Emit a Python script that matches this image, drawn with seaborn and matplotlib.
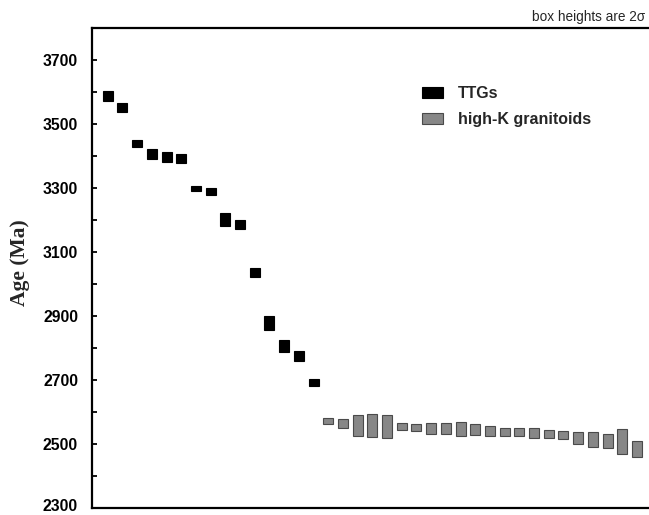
import matplotlib
matplotlib.use("Agg")
import matplotlib.pyplot as plt
import matplotlib.transforms as mtransforms
from matplotlib.patches import Patch
import seaborn as sns
import numpy as np
import pandas as pd

# ---- data (ages in Ma, sigma = half box height; box heights are 2 sigma) ----
ttg_age = [3587, 3550, 3437, 3406, 3396, 3391, 3298, 3288, 3201, 3185,
           3036, 2878, 2805, 2774, 2691]
ttg_sigma = [15, 14, 11, 15, 15, 15, 9, 12, 20, 13, 15, 23, 19, 16, 11]

gran_age = [2571, 2564, 2558, 2558, 2555, 2554, 2552, 2549, 2548, 2547, 2545,
            2540, 2538, 2538, 2535, 2531, 2529, 2518, 2514, 2509, 2508, 2484]
gran_sigma = [9, 14, 32, 37, 36, 10, 10, 18, 17, 21, 17,
              15, 12, 12, 15, 12, 13, 18, 23, 21, 40, 25]

legend_labels = ["TTGs", "high-K granitoids"]
y_ticks = [2300, 2500, 2700, 2900, 3100, 3300, 3500, 3700]

ttg = pd.DataFrame({"pos": np.arange(len(ttg_age)),
                    "age": ttg_age, "sigma": ttg_sigma})
gran = pd.DataFrame({"pos": np.arange(len(gran_age)) + len(ttg_age),
                     "age": gran_age, "sigma": gran_sigma})
for d in (ttg, gran):
    d["height"] = 2 * d["sigma"]
    d["bottom"] = d["age"] - d["sigma"]

sns.set_style("white", {"ytick.direction": "in", "ytick.left": True})
sans = ["Liberation Sans", "DejaVu Sans"]
plt.rcParams["font.family"] = sans
plt.rcParams["ytick.direction"] = "in"

fig = plt.figure(figsize=(6.49, 5.15), dpi=100)
ax = fig.add_axes([92 / 649, 1 - 508 / 515, 1 - 92 / 649, (508 - 27.7) / 515])

ttg_col, ttg_edge = "#000000", "#000000"
gran_col, gran_edge = "#878787", "#4a4a4a"

sns.barplot(data=ttg, x="pos", y="height", bottom=ttg["bottom"].values,
            native_scale=True, width=0.68, color=ttg_col, saturation=1,
            edgecolor=ttg_edge, linewidth=0.8, errorbar=None, ax=ax)
sns.barplot(data=gran, x="pos", y="height", bottom=gran["bottom"].values,
            native_scale=True, width=0.68, color=gran_col, saturation=1,
            edgecolor=gran_edge, linewidth=0.8, errorbar=None, ax=ax)

ax.set_xlim(-1.07, 36.82)
ax.set_ylim(2300, 3800)
ax.set_xticks([])
ax.set_xlabel("")
ax.set_yticks(y_ticks)
ax.set_yticks(np.arange(2400, 3800, 200), minor=True)
ax.tick_params(axis="y", which="both", direction="in", length=3.5, width=1.3,
               pad=10, left=True, labelsize=11.3, colors="black")
ylabels = ax.get_yticklabels()
for lab in ylabels:
    lab.set_fontweight("bold")
# keep the lowest label (at the figure's bottom edge) fully inside the canvas
ylabels[0].set_transform(ylabels[0].get_transform() +
                         mtransforms.ScaledTranslation(0, 3 / 100,
                                                       fig.dpi_scale_trans))

for side in ("left", "bottom", "top"):
    ax.spines[side].set_visible(True)
    ax.spines[side].set_linewidth(1.6)
    ax.spines[side].set_color("black")
ax.spines["right"].set_visible(False)

ax.set_ylabel("Age (Ma)", fontsize=15.5, fontweight="bold",
              family=["Liberation Serif", "DejaVu Serif"])
ax.yaxis.set_label_coords((30 - 92) / 557, 0.51)

handles = [Patch(facecolor=ttg_col, edgecolor=ttg_edge, linewidth=0.8),
           Patch(facecolor=gran_col, edgecolor=gran_edge, linewidth=0.8)]
fig.legend(handles, legend_labels, loc="upper left",
           bbox_to_anchor=(422 / 649, 1 - 86 / 515), frameon=False,
           borderpad=0, borderaxespad=0, handlelength=1.3, handleheight=0.65,
           handletextpad=0.95, labelspacing=0.7,
           prop={"weight": "bold", "size": 11.5, "family": sans})

fig.text(645 / 649, 1 - 17 / 515, "box heights are 2\u03c3", ha="right",
         va="center", fontsize=9.8, family=sans)

fig.savefig("out.png", dpi=100)
